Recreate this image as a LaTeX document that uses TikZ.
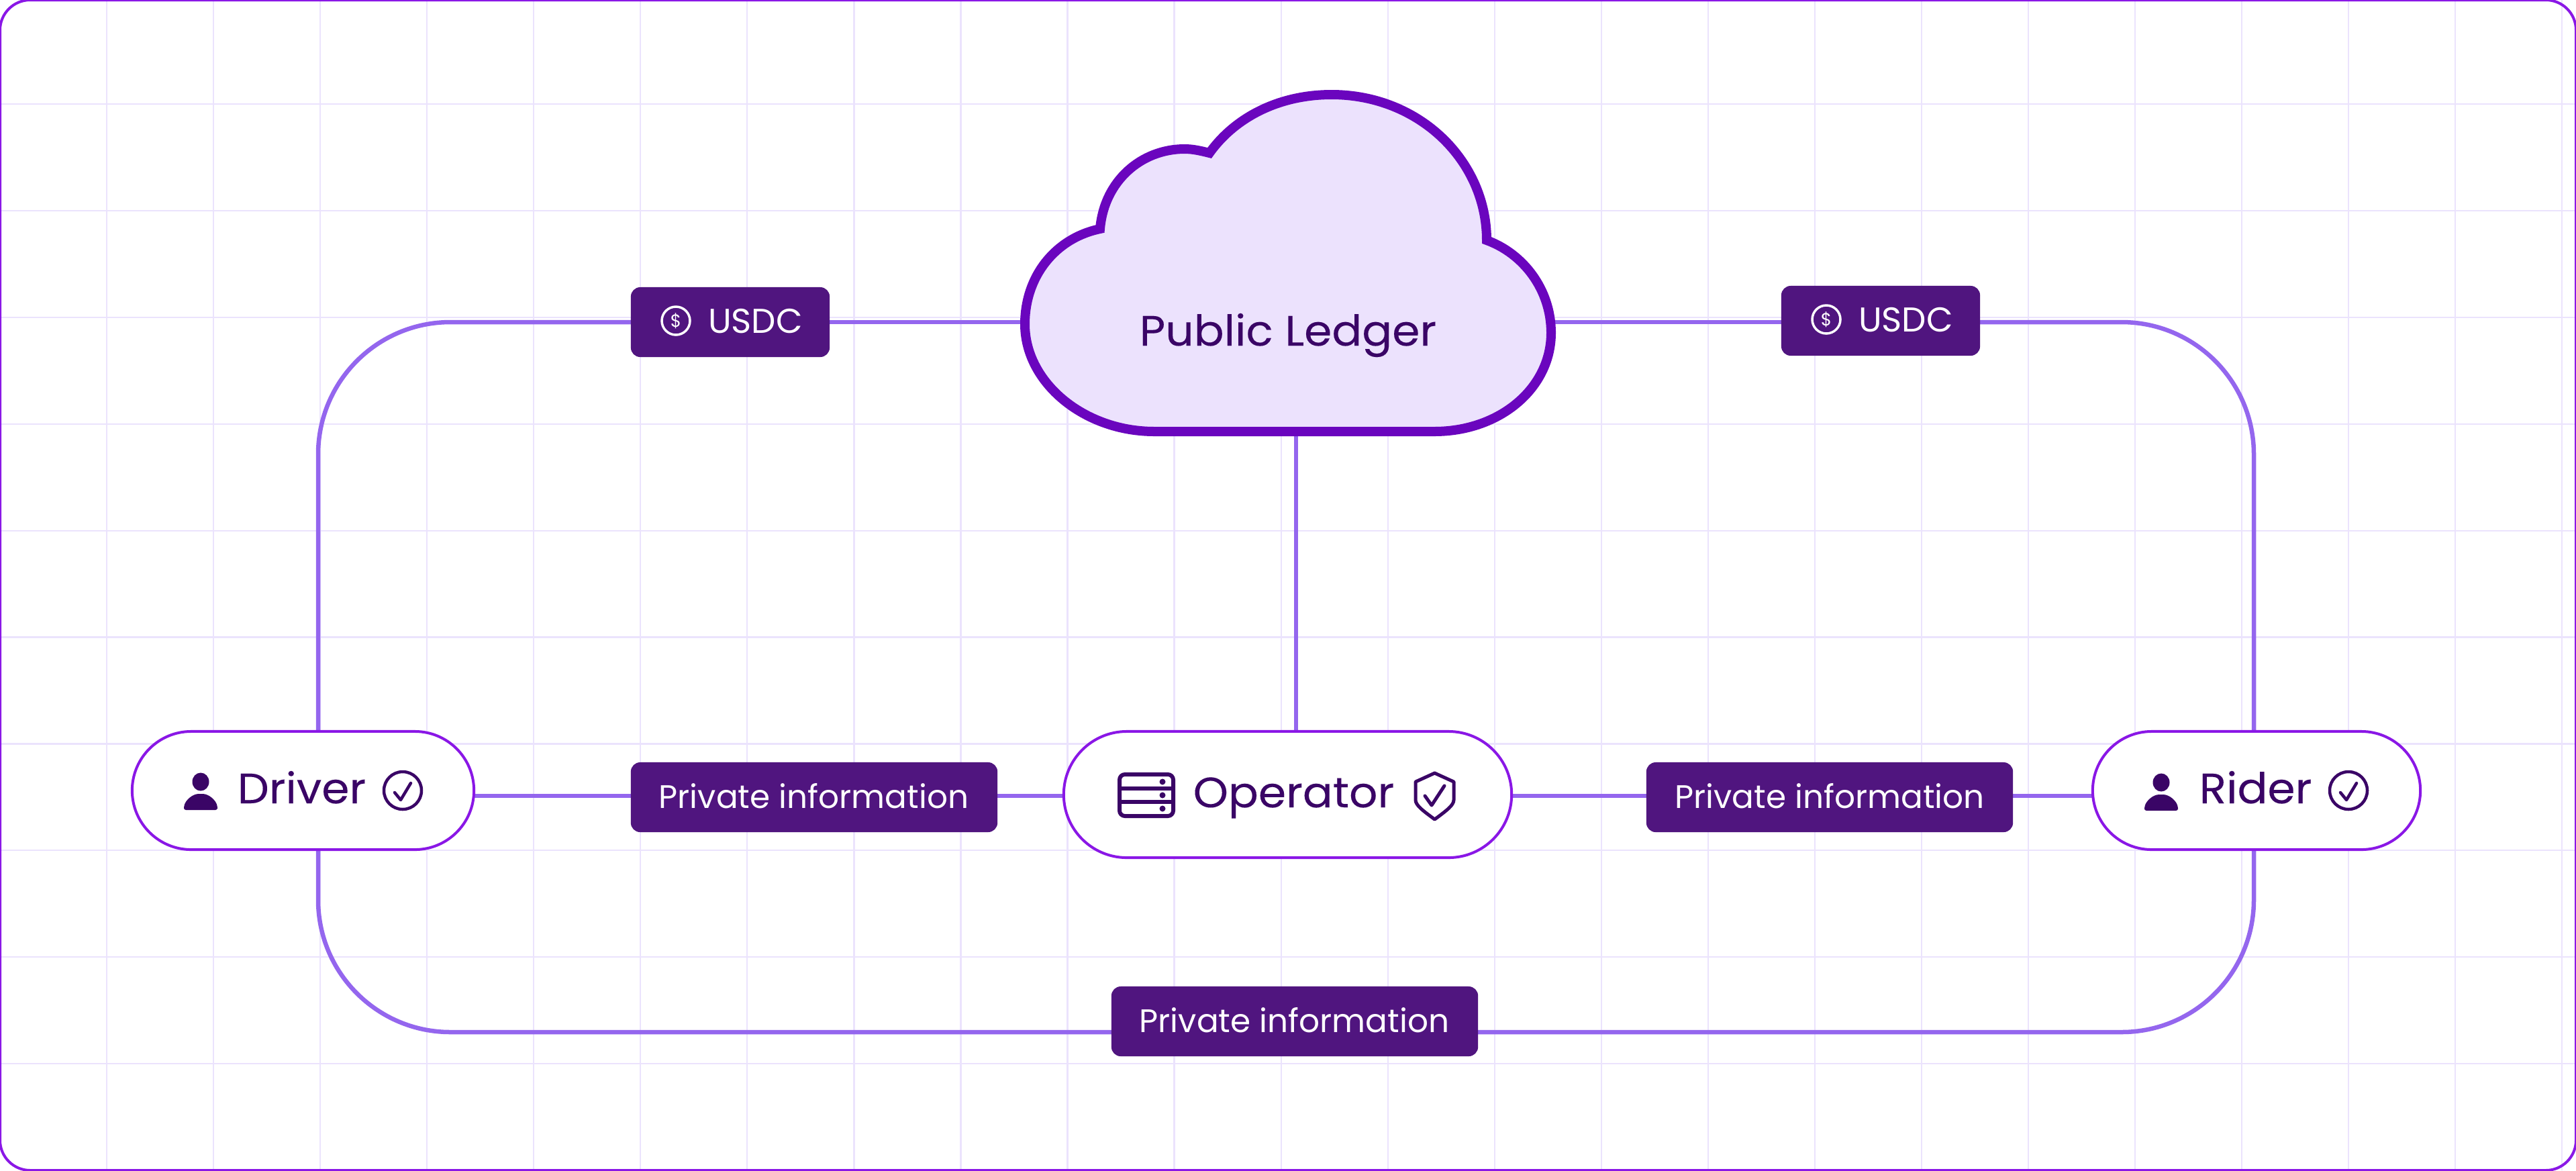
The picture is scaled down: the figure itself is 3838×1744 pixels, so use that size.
\documentclass[tikz,border=0pt]{standalone}
\usepackage{fontspec}
\setmainfont{Poppins}
\newfontfamily\mediumfont[FakeStretch=1.05,FakeBold=0.12]{Poppins}
\usetikzlibrary{calc}
\definecolor{gridc}{HTML}{EBE3FD}
\definecolor{framec}{HTML}{8A17E6}
\definecolor{wirec}{HTML}{9466EE}
\definecolor{cloudf}{HTML}{ECE2FD}
\definecolor{clouds}{HTML}{6A05BE}
\definecolor{ink}{HTML}{3A0566}
\definecolor{tagc}{HTML}{50157F}
\pgfdeclarelayer{gridlayer}
\pgfdeclarelayer{wirelayer}
\pgfsetlayers{gridlayer,wirelayer,main}
\tikzset{
  px/.style={x=0.01cm,y=-0.01cm},
  gridline/.style={draw=gridc,line width=0.022cm},
  wire/.style={draw=wirec,line width=0.065cm},
  bentwire/.style={wire,rounded corners=1.97cm},
  pill/.style={draw=framec,fill=white,line width=0.04cm,rounded corners=0.88cm,inner sep=0,outer sep=0},
  tag/.style={fill=tagc,rounded corners=0.14cm,inner sep=0,outer sep=0},
  big/.style={text=ink,font=\mediumfont\fontsize{18}{20}\selectfont,inner sep=0,anchor=base},
  small/.style={text=white,font=\fontsize{13.8}{16}\selectfont,inner sep=0,anchor=base},
  coin/.style={text=white,font=\fontsize{14.6}{16}\selectfont,inner sep=0,anchor=base},
  iconline/.style={draw=ink,line width=0.045cm,line cap=round,line join=round},
}
\newcommand{\personicon}[2]{%
  \fill[ink] (#1,#2-1) ellipse [x radius=12.5,y radius=13.5];
  \fill[ink,rounded corners=0.03cm] (#1-25,#2+41) -- (#1-25,#2+36) .. controls (#1-22,#2+26) and (#1-12,#2+17) .. (#1,#2+17) .. controls (#1+12,#2+17) and (#1+22,#2+26) .. (#1+25,#2+36) -- (#1+25,#2+41) -- cycle;
}
\newcommand{\checkcircle}[2]{%
  \draw[iconline] (#1,#2) circle [radius=28];
  \draw[iconline] (#1-12,#2+3) -- (#1-3,#2+14) -- (#1+12,#2-11);
}
\newcommand{\usdicon}[2]{%
  \draw[white,line width=0.035cm] (#1,#2) circle [radius=21];
  \node[text=white,font=\fontsize{7.5}{8}\selectfont,inner sep=0] at (#1,#2) {\$};
}
\begin{document}
\begin{tikzpicture}[px]
\useasboundingbox (0,0) rectangle (3838,1744);
\begin{pgfonlayer}{gridlayer}
  \fill[white] (0,0) rectangle (3838,1744);
  \begin{scope}
    \clip (0,0) rectangle (3838,1744);
    \foreach \k in {1,...,24} \draw[gridline] ({159.05*\k},0) -- ({159.05*\k},1744);
    \foreach \k in {0,...,9} \draw[gridline] (0,{155+158.9*\k}) -- (3838,{155+158.9*\k});
    \draw[draw=framec,line width=0.04cm,rounded corners=0.45cm] (0,0) rectangle (3838,1744);
  \end{scope}
\end{pgfonlayer}

% cloud
\draw[draw=clouds,fill=cloudf,line width=0.14cm,miter limit=10]
  (1639,341) .. controls (1645,270) and (1700,222) .. (1765,222)
  .. controls (1778,222) and (1790,225) .. (1802,228)
  .. controls (1840,175) and (1905,141) .. (1984,141)
  .. controls (2115,141) and (2215,240) .. (2215,358)
  .. controls (2270,378) and (2311,432) .. (2311,496)
  .. controls (2311,578) and (2235,643) .. (2137,643)
  -- (1720,643)
  .. controls (1615,643) and (1527,570) .. (1527,483)
  .. controls (1527,412) and (1572,355) .. (1639,341) -- cycle;
\node[big] (ledger) at (1919,515) {Public Ledger};
\coordinate (cloudW) at (1530,480);
\coordinate (cloudE) at (2308,480);
\coordinate (cloudS) at (1931,640);

% pills
\node[pill,minimum width=5.09cm,minimum height=1.76cm] (driver) at (451.5,1178) {};
\node[pill,rounded corners=0.94cm,minimum width=6.67cm,minimum height=1.88cm] (operator) at (1918.5,1184) {};
\node[pill,minimum width=4.88cm,minimum height=1.76cm] (rider) at (3362,1178) {};

\personicon{299}{1166}
\node[big] (driverT) at (449.5,1197) {Driver};
\checkcircle{600}{1178}

\draw[draw=ink,line width=0.06cm,rounded corners=0.08cm] (1668,1154) rectangle (1748,1216);
\draw[draw=ink,line width=0.06cm] (1668,1175) -- (1748,1175) (1668,1195) -- (1748,1195);
\fill[ink] (1732,1165) circle [radius=4.5] (1732,1185) circle [radius=4.5] (1732,1205) circle [radius=4.5];
\node[big] (operatorT) at (1927.5,1203) {Operator};
\draw[iconline,line width=0.05cm] (2137.5,1152) -- (2166,1165) -- (2166,1192) .. controls (2166,1200) and (2155,1208) .. (2137.5,1221) .. controls (2120,1208) and (2109,1200) .. (2109,1192) -- (2109,1165) -- cycle;
\draw[iconline,line width=0.05cm] (2123,1186) -- (2133,1200) -- (2152,1171);

\personicon{3220}{1167}
\node[big] (riderT) at (3360.5,1197) {Rider};
\checkcircle{3499}{1178}

% tags
\node[tag,minimum width=2.96cm,minimum height=1.04cm] (usdcL) at (1088,480) {};
\node[coin] (usdcLT) at (1125.5,496) {USDC};
\usdicon{1007}{478}
\node[tag,minimum width=2.96cm,minimum height=1.04cm] (usdcR) at (2802,478) {};
\node[coin] (usdcRT) at (2839.5,494) {USDC};
\usdicon{2721}{476}
\node[tag,minimum width=5.46cm,minimum height=1.04cm] (privL) at (1213,1188) {};
\node[small] (privLT) at (1212.5,1204) {Private information};
\node[tag,minimum width=5.46cm,minimum height=1.04cm] (privR) at (2726,1188) {};
\node[small] (privRT) at (2726,1204) {Private information};
\node[tag,minimum width=5.46cm,minimum height=1.04cm] (privB) at (1929,1522) {};
\node[small] (privBT) at (1928.5,1538) {Private information};

% connectors
\coordinate (railL) at (474,1186);
\coordinate (railR) at (3358,1186);
\coordinate (botY) at (0,1538);
\begin{pgfonlayer}{wirelayer}
  \draw[bentwire] (driver.north -| railL) |- (usdcL.west);
  \draw[wire] (usdcL.east) -- (cloudW);
  \draw[wire] (cloudE) -- (usdcR.west |- cloudE);
  \draw[bentwire] (usdcR.east |- cloudE) -| (rider.north -| railR);
  \draw[wire] (cloudS) -- (operator.north -| cloudS);
  \draw[wire] (driver.east |- railL) -- (privL.west |- railL);
  \draw[wire] (privL.east |- railL) -- (operator.west |- railL);
  \draw[wire] (operator.east |- railL) -- (privR.west |- railL);
  \draw[wire] (privR.east |- railL) -- (rider.west |- railL);
  \draw[bentwire] (driver.south -| railL) |- (privB.west |- botY);
  \draw[bentwire] (privB.east |- botY) -| (rider.south -| railR);
\end{pgfonlayer}
\end{tikzpicture}
\end{document}
